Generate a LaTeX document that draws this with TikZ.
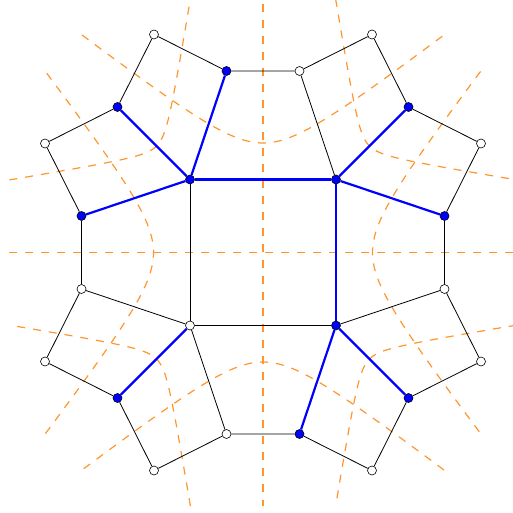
\documentclass[tikz,border=0pt]{standalone}
\definecolor{orangec}{RGB}{255,150,45}
\pgfdeclarelayer{bg}
\pgfsetlayers{bg,main}
\tikzset{
  wnode/.style={circle,draw=black,line width=0.6pt,fill=white,inner sep=0pt,minimum size=9pt},
  bnode/.style={wnode,fill=blue},
  blk/.style={draw=black,line width=0.8pt},
  blu/.style={draw=blue,line width=2.2pt},
  dual/.style={draw=orangec,line width=1.2pt,dash pattern=on 8pt off 8pt}
}
\begin{document}
\begin{tikzpicture}[x=1pt,y=1pt]
\useasboundingbox (-263,-260.5) rectangle (249,252.5);
\clip (-263,-260.5) rectangle (249,252.5);
% nodes
\node[bnode] (c1) at (-73,73) {};
\node[bnode] (c2) at (73,73) {};
\node[bnode] (c3) at (73,-73) {};
\node[wnode] (c4) at (-73,-73) {};
\node[wnode] (o1) at (-109,218) {};
\node[bnode] (o2) at (-36.5,181.5) {};
\node[wnode] (o3) at (36.5,181.5) {};
\node[wnode] (o4) at (109,218) {};
\node[bnode] (o5) at (145.5,145.5) {};
\node[wnode] (o6) at (218,109) {};
\node[bnode] (o7) at (181.5,36.5) {};
\node[wnode] (o8) at (181.5,-36.5) {};
\node[wnode] (o9) at (218,-109) {};
\node[bnode] (o10) at (145.5,-145.5) {};
\node[wnode] (o11) at (109,-218) {};
\node[bnode] (o12) at (36.5,-181.5) {};
\node[wnode] (o13) at (-36.5,-181.5) {};
\node[wnode] (o14) at (-109,-218) {};
\node[bnode] (o15) at (-145.5,-145.5) {};
\node[wnode] (o16) at (-218,-109) {};
\node[wnode] (o17) at (-181.5,-36.5) {};
\node[bnode] (o18) at (-181.5,36.5) {};
\node[wnode] (o19) at (-218,109) {};
\node[bnode] (o20) at (-145.5,145.5) {};
\begin{pgfonlayer}{bg}
  % dual curves
  \draw[dual] (-254,0) -- (254,0);
  \draw[dual] (0,248.5) -- (0,-253.5);
  \foreach \a in {0,90,180,270}
    \draw[dual,rotate=\a] plot[domain=-181:181,samples=121,smooth]
      (\x,{109.5+0.77*(100*sqrt(0.217156+(\x/100)^2)-46.6)});
  \foreach \a in {45,135,225,315}
    \draw[dual,rotate=\a] plot[domain=-128:128,samples=121,smooth]
      (\x,{150.6+0.718*(100*sqrt(0.031329+(\x/100)^2)-17.7)});
  % outer cycle
  \draw[blk] (o1)--(o2)--(o3)--(o4)--(o5)--(o6)--(o7)--(o8)--(o9)--(o10)--(o11)--(o12)--(o13)--(o14)--(o15)--(o16)--(o17)--(o18)--(o19)--(o20)--(o1);
  % black spokes
  \draw[blk] (c1)--(c4);
  \draw[blk] (c4)--(c3);
  \draw[blk] (c2)--(o3);
  \draw[blk] (c3)--(o8);
  \draw[blk] (c4)--(o13);
  \draw[blk] (c4)--(o17);
  % blue spokes
  \draw[blu] (c1)--(c2);
  \draw[blu] (c2)--(c3);
  \draw[blu] (c1)--(o2);
  \draw[blu] (c1)--(o20);
  \draw[blu] (c1)--(o18);
  \draw[blu] (c2)--(o5);
  \draw[blu] (c2)--(o7);
  \draw[blu] (c3)--(o10);
  \draw[blu] (c3)--(o12);
  \draw[blu] (c4)--(o15);
\end{pgfonlayer}
\end{tikzpicture}
\end{document}
